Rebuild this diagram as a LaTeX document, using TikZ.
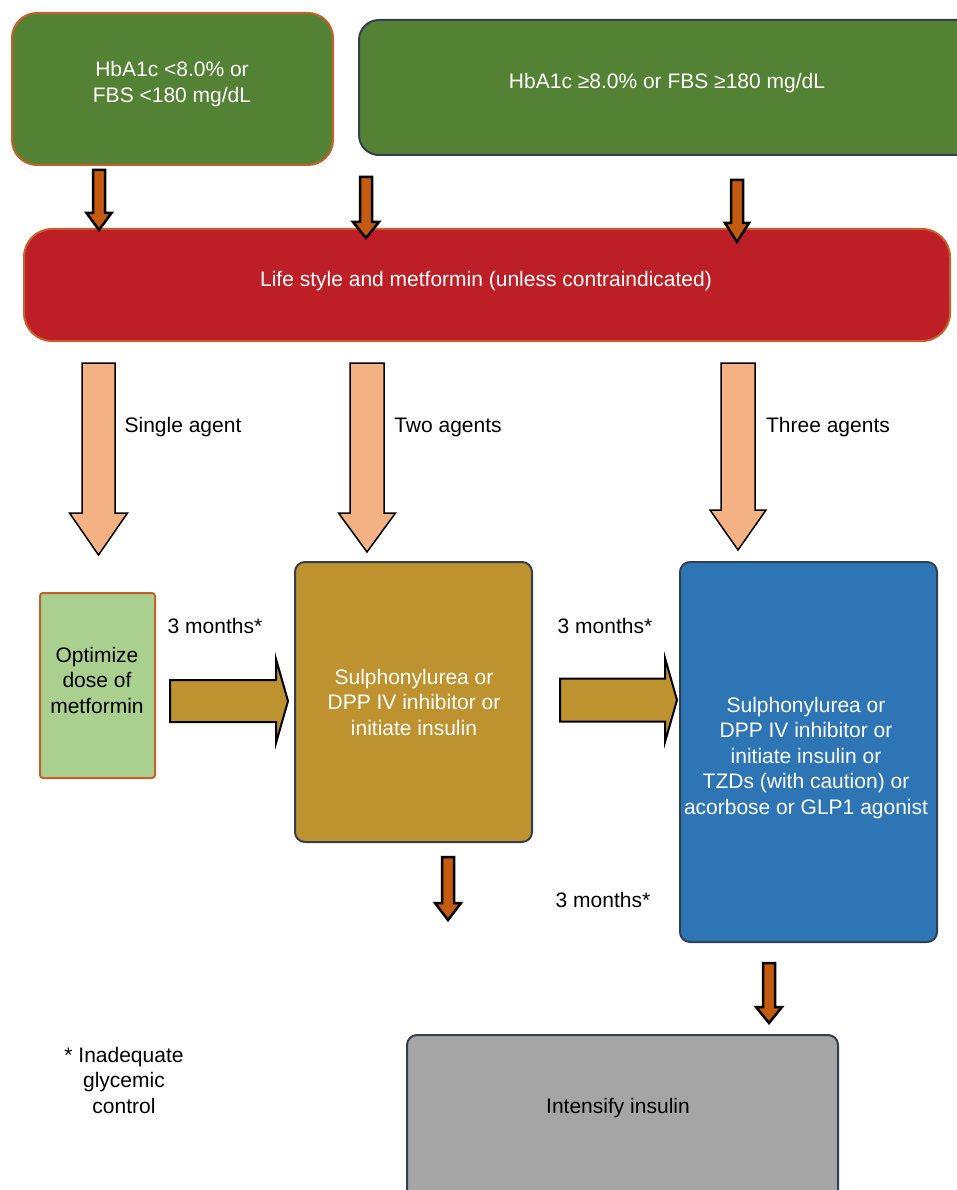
\documentclass[tikz,border=0pt]{standalone}
\usepackage{fontspec}
\setmainfont{Liberation Sans}
\definecolor{dgreen}{HTML}{548235}
\definecolor{borange}{HTML}{C8602C}
\definecolor{navy}{HTML}{323F4F}
\definecolor{lred}{HTML}{BE1E25}
\definecolor{peach}{HTML}{F4B183}
\definecolor{lgreen}{HTML}{A9D08E}
\definecolor{gold}{HTML}{BF9230}
\definecolor{mblue}{HTML}{2E75B6}
\definecolor{mgray}{HTML}{A5A5A5}
\definecolor{arrowor}{HTML}{C55A11}
\newcommand{\downblock}[7]{%
  \draw[#1] ({#2-#6},#3) -- ({#2+#6},#3) -- ({#2+#6},#4) -- ({#2+#7},#4) -- (#2,#5) -- ({#2-#7},#4) -- ({#2-#6},#4) -- cycle;}
\newcommand{\rightblock}[7]{%
  \draw[#1] (#3,{#2-#6}) -- (#4,{#2-#6}) -- (#4,{#2-#7}) -- (#5,#2) -- (#4,{#2+#7}) -- (#4,{#2+#6}) -- (#3,{#2+#6}) -- cycle;}
\begin{document}
\begin{tikzpicture}[x=1pt,y=-1pt,
  txt/.style={font=\fontsize{21}{25.5}\selectfont, align=center, inner sep=0pt},
  wtxt/.style={txt, text=white},
  box/.style={draw, line width=2pt, inner sep=0pt, outer sep=0pt},
  smallarrow/.style={fill=arrowor, draw=black, line width=2.5pt},
  bigarrow/.style={fill=peach, draw=black, line width=1.5pt},
  goldarrow/.style={fill=gold, draw=black, line width=2pt}]
\useasboundingbox (0,0) rectangle (956,1190);

% top boxes
\node[box, draw=borange, fill=dgreen, rounded corners=25pt, minimum width=321pt, minimum height=152pt] (b1) at (172.5,89) {};
\node[wtxt] (t1) at (172,84) {HbA1c <8.0\% or\\FBS <180 mg/dL};
\node[box, draw=navy, fill=dgreen, rounded corners=20pt, minimum width=640pt, minimum height=135pt, anchor=west] (b2) at (359,87.5) {};
\node[wtxt] (t2) at (667,83) {HbA1c ≥8.0\% or FBS ≥180 mg/dL};

% red box
\node[box, draw=borange, fill=lred, rounded corners=28pt, minimum width=926pt, minimum height=112pt] (red) at (487,285) {};
\node[wtxt] (tred) at (486,281) {Life style and metformin (unless contraindicated)};

% small arrows to red box
\downblock{smallarrow}{99}{170}{213}{230}{6}{12.5}
\downblock{smallarrow}{366}{177}{222}{238}{6}{13}
\downblock{smallarrow}{737}{180}{223}{242}{6}{12}

% big arrows
\downblock{bigarrow}{98.5}{363}{513}{555}{16.5}{29}
\downblock{bigarrow}{367}{363}{513}{552}{17}{28.5}
\downblock{bigarrow}{738}{363}{510}{550}{17}{28}
\node[txt] (l1) at (183,427) {Single agent};
\node[txt] (l2) at (448,427) {Two agents};
\node[txt] (l3) at (828,427) {Three agents};

% middle row
\node[box, draw=borange, fill=lgreen, rounded corners=3pt, minimum width=115pt, minimum height=185pt] (opt) at (97.5,685.5) {};
\node[txt] (topt) at (97,680) {Optimize\\dose of\\metformin};
\node[box, draw=navy, fill=gold, rounded corners=10pt, minimum width=237pt, minimum height=280pt] (sul) at (413.5,702) {};
\node[wtxt] (tsul) at (414,702) {Sulphonylurea or\\DPP IV inhibitor or\\initiate insulin};
\node[box, draw=navy, fill=mblue, rounded corners=10pt, minimum width=257pt, minimum height=380pt] (blu) at (808.5,752) {};
\node[wtxt] (tblu) at (806,758) {Sulphonylurea or\\DPP IV inhibitor or\\initiate insulin or\\TZDs (with caution) or\\acorbose or GLP1 agonist};

\node[txt] (m1) at (215,626) {3 months*};
\node[txt] (m2) at (605,626) {3 months*};
\node[txt] (m3) at (603,900) {3 months*};

\rightblock{goldarrow}{701}{170}{276}{288}{21}{42}
\rightblock{goldarrow}{700}{560}{665}{677}{21.5}{42}

% lower arrows
\downblock{smallarrow}{448}{857}{903}{920}{6}{13}
\downblock{smallarrow}{769}{963}{1007}{1023}{6}{13}

% gray box
\node[box, draw=navy, fill=mgray, rounded corners=10pt, minimum width=431pt, minimum height=200pt, anchor=north] (gray) at (622.5,1035) {};
\node[txt] (tgray) at (618,1108) {Intensify insulin};

\node[txt] (foot) at (124,1080) {* Inadequate\\glycemic\\control};
\end{tikzpicture}
\end{document}
